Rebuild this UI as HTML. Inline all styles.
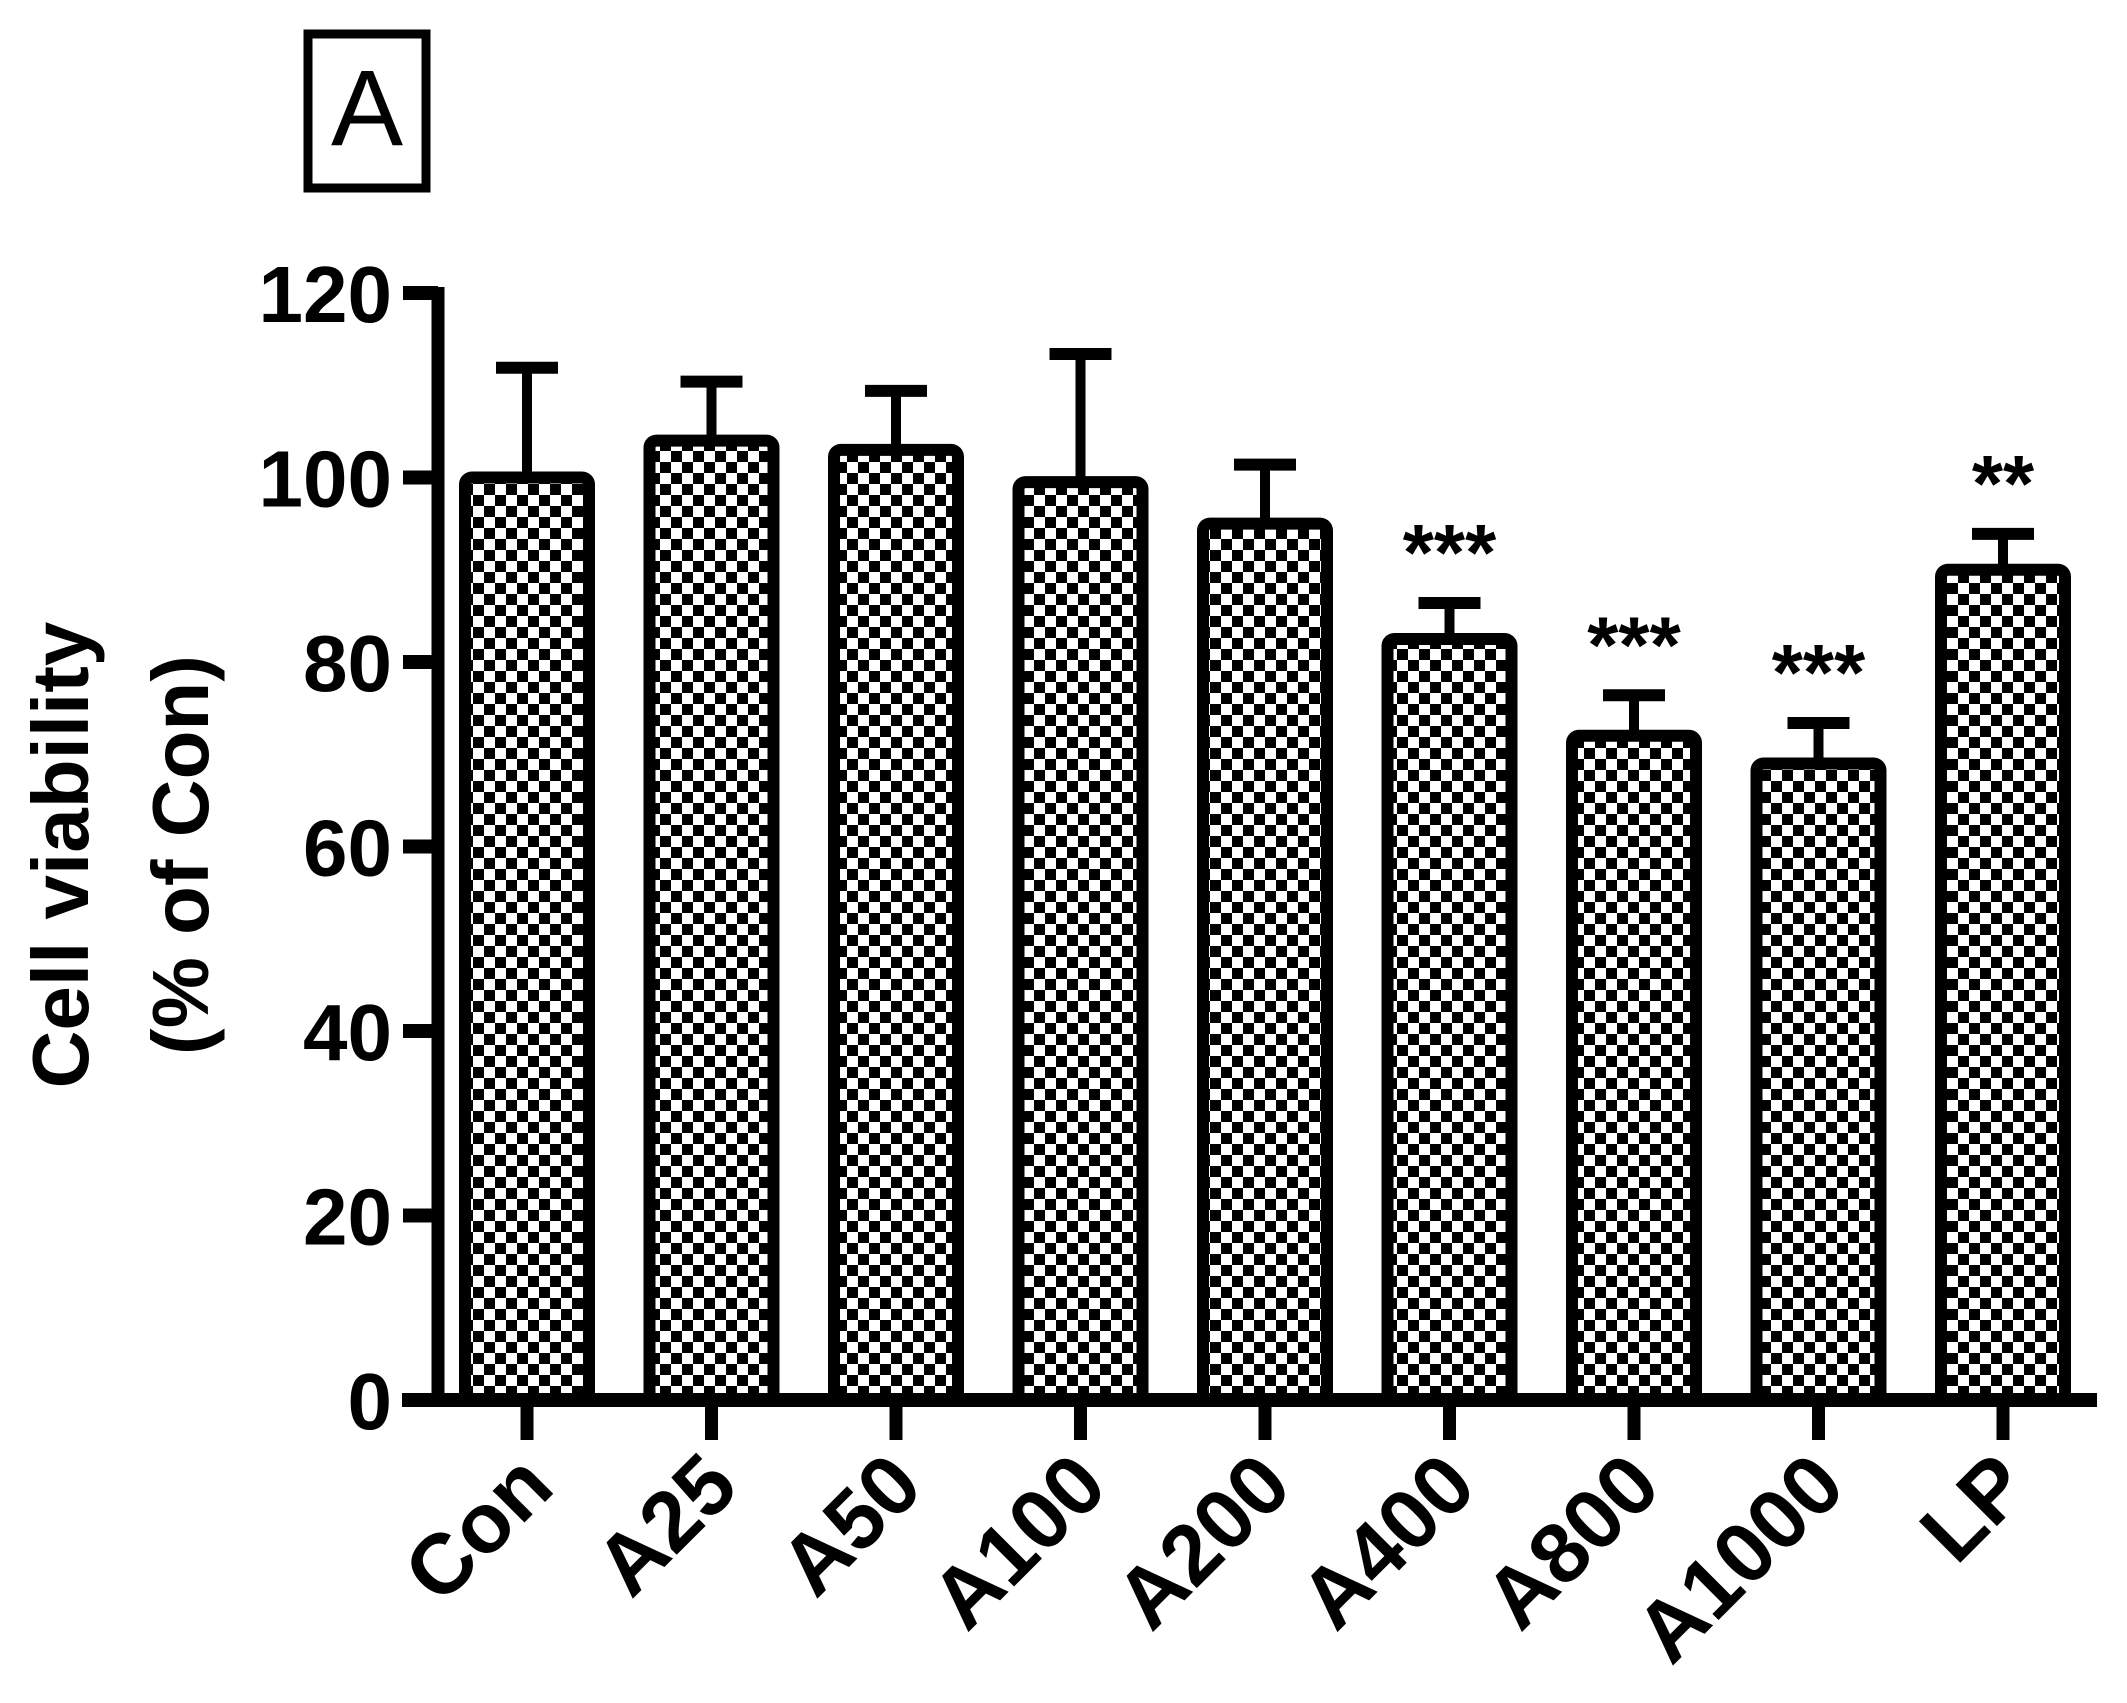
<!DOCTYPE html>
<html><head><meta charset="utf-8"><style>
html,body{margin:0;padding:0;background:#fff}
svg{display:block}
text{font-family:"Liberation Sans",Arial,sans-serif;font-weight:bold;fill:#000}
</style></head><body>
<svg id="chart" width="2127" height="1703" viewBox="0 0 2127 1703" xmlns="http://www.w3.org/2000/svg">
<defs>
<pattern id="checker" width="22" height="22" patternUnits="userSpaceOnUse">
<rect width="22" height="22" fill="#fff"/>
<rect width="11" height="11" fill="#000"/>
<rect x="11" y="11" width="11" height="11" fill="#000"/>
</pattern>
</defs>
<g>
<rect x="308" y="34" width="118" height="154" fill="none" stroke="#000" stroke-width="9"/>
<text x="367" y="145" text-anchor="middle" font-size="108" style="font-weight:normal">A</text>
</g>
<g>
<text transform="translate(88,855) rotate(-90)" text-anchor="middle" font-size="80">Cell viability</text>
<text transform="translate(208,855) rotate(-90)" text-anchor="middle" font-size="80">(% of Con)</text>
</g>
<g id="plot"></g>
</svg>
<script>
const categories = ["Con","A25","A50","A100","A200","A400","A800","A1000","LP"];
const means = [100,104,103,99.5,95,82.5,72,69,90];
const errors = [12,6.5,6.5,14,6.5,4,4.5,4.5,4];
const sigLabels = ["","","","","","***","***","***","**"];
const yTicks = [0,20,40,60,80,100,120];

const NS="http://www.w3.org/2000/svg";
const plot=document.getElementById('plot');
const y0=1400, pxPerUnit=9.225;
function yScale(v){return y0 - v*pxPerUnit;}
function xScale(i){return 527 + i*184.5;}
function mk(tag,attrs,parent){const e=document.createElementNS(NS,tag);for(const k in attrs)e.setAttribute(k,attrs[k]);(parent||plot).appendChild(e);return e;}

const barW=124;
categories.forEach((c,i)=>{
  const cx=xScale(i), top=yScale(means[i]), et=yScale(means[i]+errors[i]);
  const eb=mk('g',{});
  
  
  mk('line',{x1:cx,y1:top,x2:cx,y2:et,stroke:'#000','stroke-width':10},eb);
  mk('line',{x1:cx-31,y1:et+1,x2:cx+31,y2:et+1,stroke:'#000','stroke-width':12},eb);
  const b=mk('rect',{x:cx-barW/2,y:top,width:barW,height:y0-top,rx:7,fill:'url(#checker)',stroke:'#000','stroke-width':12});
  
  
  if(sigLabels[i]){
    const s=mk('text',{x:cx,y:et-22,'text-anchor':'middle','font-size':80});
    s.textContent=sigLabels[i];
    
    
  }
  const t=mk('line',{x1:cx,y1:y0,x2:cx,y2:y0+40,stroke:'#000','stroke-width':13});
  
  
  const l=mk('text',{transform:`translate(${cx+30},${y0+90}) rotate(-45)`,'text-anchor':'end','font-size':85});
  l.textContent=c;
  
  
});
const ya=mk('line',{x1:438,y1:yScale(120)-6,x2:438,y2:y0+6,stroke:'#000','stroke-width':13});


const xa=mk('line',{x1:402,y1:y0,x2:2097,y2:y0,stroke:'#000','stroke-width':14});


yTicks.forEach(v=>{
  const y=yScale(v);
  const t=mk('line',{x1:403,y1:y,x2:438,y2:y,stroke:'#000','stroke-width':14});
  
  
  const l=mk('text',{x:392,y:y+29,'text-anchor':'end','font-size':80});
  l.textContent=v;
  
  
});
</script>
</body></html>
